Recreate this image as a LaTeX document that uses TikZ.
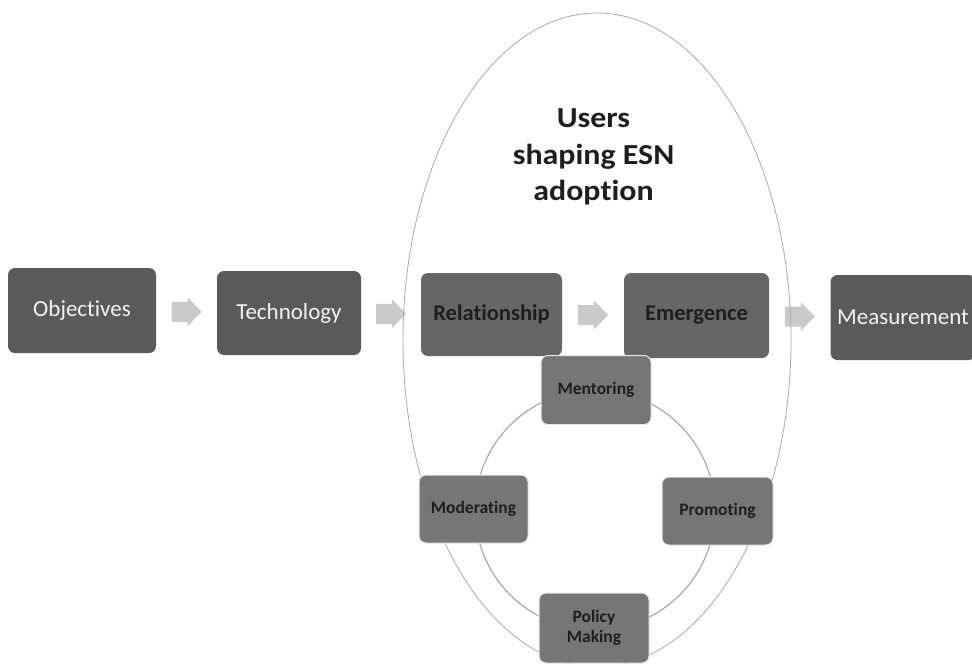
\documentclass[tikz,border=0pt]{standalone}
\usepackage{fontspec}
\setmainfont[Ligatures=CommonOff]{Carlito}
\newfontfamily\titlefont[FakeStretch=1.1,Ligatures=CommonOff]{Carlito}
\usetikzlibrary{calc}

\pgfdeclarelayer{arrowlayer}
\pgfdeclarelayer{bg}
\pgfsetlayers{arrowlayer,bg,main}

\definecolor{boxdark}{HTML}{5A5A5A}
\definecolor{boxmid}{HTML}{666666}
\definecolor{boxlight}{HTML}{767676}
\definecolor{arrowgray}{HTML}{C9C9C9}
\definecolor{linegray}{HTML}{A8A8A8}
\definecolor{darktext}{HTML}{1E1E1E}

\begin{document}
\begin{tikzpicture}[x=1pt,y=-1pt,
  box/.style={rounded corners=7pt, inner sep=0pt, anchor=center},
  outerbox/.style={box, fill=boxdark, text=white!90!gray,
    font=\fontsize{23}{26}\selectfont, minimum width=146pt, minimum height=85pt},
  midbox/.style={box, fill=boxmid, text=darktext,
    font=\bfseries\fontsize{22.5}{26}\selectfont, minimum height=84pt},
  smallbox/.style={box, fill=boxlight, draw=white!82!gray, line width=1pt,
    text=darktext, font=\bfseries\fontsize{17.5}{20}\selectfont, align=center,
    minimum width=110pt, minimum height=69pt},
  titletext/.style={font=\titlefont\bfseries\fontsize{29}{36.5}\selectfont,
    align=center, text=darktext},
  outline/.style={draw=linegray, line width=0.8pt},
  ringline/.style={draw=linegray, line width=1.2pt},
  barrow/.pic={\fill[arrowgray] (-15,-10) -- (1,-10) -- (1,-14.5) -- (15,0)
      -- (1,14.5) -- (1,10) -- (-15,10) -- cycle;}
]
\useasboundingbox (0,0) rectangle (972,664);

% main chain
\node[outerbox, minimum width=148pt] (obj) at (82,310.5) {Objectives};
\node[outerbox, minimum width=144pt, minimum height=84pt] (tech) at (289,313) {Technology};
\node[midbox, minimum width=141pt, minimum height=83pt] (rel) at (491.5,314.5) {Relationship};
\node[midbox, minimum width=145pt, minimum height=85pt] (emer) at (696.5,315.5) {Emergence};
\node[outerbox, minimum width=145pt] (meas) at (903,317.5) {Measurement};

% title
\node[titletext] (title) at (593.5,157) {Users\\shaping ESN\\adoption};

% ring of roles
\coordinate (ringc) at (595,510);
\coordinate (ellc) at (597,340);
\node[smallbox] (ment) at (596,390) {Mentoring};
\node[smallbox, minimum width=109pt, minimum height=68pt] (mod) at (473.5,509) {Moderating};
\node[smallbox, minimum width=111pt, minimum height=68pt] (prom) at (717.5,511) {Promoting};
\node[smallbox, minimum height=70pt] (pol) at (594,628) {Policy\\Making};

% block arrows between the chain boxes
\begin{pgfonlayer}{arrowlayer}
  \pic at ($(obj.east)!0.5!(tech.west)$) {barrow};
  \pic at ($(tech.east)!0.5!(rel.west)$) {barrow};
  \pic at ($(rel.east)!0.5!(emer.west)$) {barrow};
  \pic at ($(emer.east)!0.5!(meas.west)$) {barrow};
\end{pgfonlayer}

% ellipse and ring
\begin{pgfonlayer}{bg}
  \path[outline] (ellc) ellipse [x radius=194, y radius=327];
  \path[ringline] (ringc) circle [radius=120];
\end{pgfonlayer}
\end{tikzpicture}
\end{document}
